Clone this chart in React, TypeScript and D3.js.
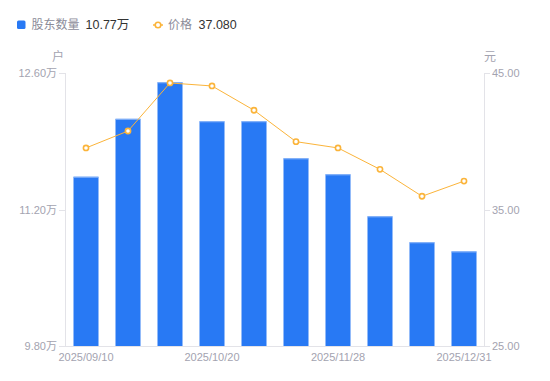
import React from "react";
import * as d3 from "d3";

const dates = ["2025/09/10", "2025/09/20", "2025/09/30", "2025/10/20", "2025/10/31", "2025/11/10", "2025/11/28", "2025/12/10", "2025/12/20", "2025/12/31"];
const holders = [11.536, 12.13, 12.505, 12.105, 12.105, 11.725, 11.561, 11.13, 10.864, 10.77];
const prices = [39.51, 40.75, 44.27, 44.05, 42.27, 39.97, 39.51, 37.94, 35.97, 37.08];
const leftTicks = [9.8, 11.2, 12.6];
const rightTicks = [25, 35, 45];
const shownDates = [0, 3, 6, 9];

const W = 550, H = 381;
const M = { left: 65, right: 485, top: 73, bottom: 346 };
const FONT = "'Liberation Sans', Arial, 'Noto Sans CJK SC', sans-serif";
const BLUE = "#2879F4";
const ORANGE = "#FBB43A";
const AXIS = "#E3E3E8";
const LABEL = "#A3A3B0";

export default function App() {
  const x = d3.scaleBand<number>().domain(d3.range(dates.length)).range([M.left, M.right]).paddingInner(0).paddingOuter(0);
  const bw = 25;
  const yL = d3.scaleLinear().domain([9.8, 12.6]).range([M.bottom, M.top]);
  const yR = d3.scaleLinear().domain([25, 45]).range([M.bottom, M.top]);
  const cx = (i: number) => (x(i) as number) + x.bandwidth() / 2;
  const line = d3.line<number>().x((_, i) => cx(i)).y((d) => yR(d));

  return (
    <svg width={W} height={H} style={{ position: "absolute", left: 0, top: 0 }} fontFamily={FONT}>
      {/* legend */}
      <rect x={17} y={20.5} width={8.5} height={8.5} rx={1.5} fill={BLUE} />
      <text x={31.5} y={29} fontSize={12} fill="#8C8C99">股东数量</text>
      <text x={85.5} y={29} fontSize={12.5} fill="#333">10.77万</text>
      <line x1={153} x2={163} y1={25} y2={25} stroke={ORANGE} strokeWidth={1.5} />
      <circle cx={158} cy={25} r={2.8} fill="#fff" stroke={ORANGE} strokeWidth={1.6} />
      <text x={168} y={29} fontSize={12} fill="#8C8C99">价格</text>
      <text x={198.5} y={29} fontSize={12.5} fill="#333">37.080</text>

      {/* axis titles */}
      <text x={58} y={61} fontSize={12} fill={LABEL} textAnchor="middle">户</text>
      <text x={490} y={61} fontSize={12} fill={LABEL} textAnchor="middle">元</text>

      {/* bars */}
      {holders.map((v, i) => (
        <g key={i}>
          <rect x={cx(i) - bw / 2} y={yL(v)} width={bw} height={M.bottom - yL(v)} fill={BLUE} />
          <line x1={cx(i) - bw / 2} x2={cx(i) + bw / 2} y1={yL(v) + 0.5} y2={yL(v) + 0.5} stroke="#8FB8F8" strokeWidth={1} />
        </g>
      ))}

      {/* axes */}
      <line x1={M.left + 0.5} x2={M.left + 0.5} y1={M.top} y2={M.bottom} stroke={AXIS} />
      <line x1={M.right - 0.5} x2={M.right - 0.5} y1={M.top} y2={M.bottom} stroke={AXIS} />
      <line x1={M.left} x2={M.right} y1={M.bottom + 0.5} y2={M.bottom + 0.5} stroke={AXIS} />
      {leftTicks.map((t) => (
        <g key={t}>
          <line x1={59} x2={M.left} y1={Math.round(yL(t)) + 0.5} y2={Math.round(yL(t)) + 0.5} stroke={AXIS} />
          <text x={57} y={yL(t) + 4} fontSize={11} fill={LABEL} textAnchor="end">{t.toFixed(2)}万</text>
        </g>
      ))}
      {rightTicks.map((t) => (
        <g key={t}>
          <line x1={M.right} x2={M.right + 5} y1={Math.round(yR(t)) + 0.5} y2={Math.round(yR(t)) + 0.5} stroke={AXIS} />
          <text x={492} y={yR(t) + 4} fontSize={11} fill={LABEL}>{t.toFixed(2)}</text>
        </g>
      ))}
      {shownDates.map((i) => (
        <text key={i} x={cx(i)} y={361} fontSize={11} fill={LABEL} textAnchor="middle">{dates[i]}</text>
      ))}

      {/* price line */}
      <path d={line(prices) || ""} fill="none" stroke={ORANGE} strokeWidth={1} />
      {prices.map((p, i) => (
        <circle key={i} cx={cx(i)} cy={yR(p)} r={2.6} fill="#fff" stroke={ORANGE} strokeWidth={1.6} />
      ))}
    </svg>
  );
}
